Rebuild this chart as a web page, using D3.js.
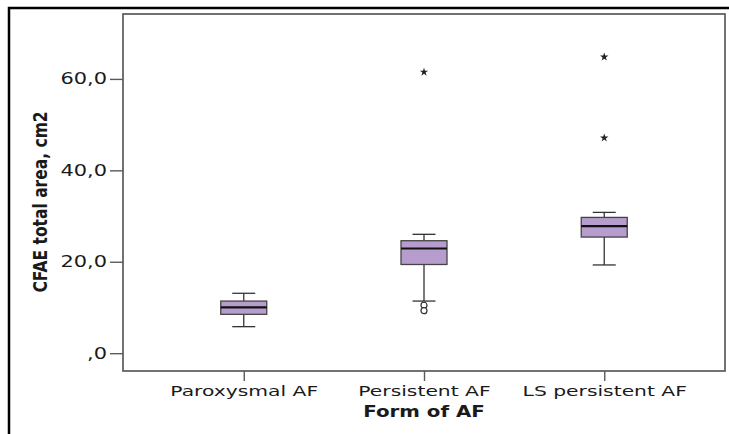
<!DOCTYPE html>
<html>
<head>
<meta charset="utf-8">
<script src="https://cdn.jsdelivr.net/npm/d3@7"></script>
<style>
  body { margin: 0; background: #fff; }
  text { font-family: "DejaVu Sans", Verdana, sans-serif; fill: #1a1a1a; }
</style>
</head>
<body>
<div id="chart"></div>
<script>
// Boxplot of CFAE total area by form of AF
const categories = ["Paroxysmal AF", "Persistent AF", "LS persistent AF"];
const whiskerLow  = [5.8, 11.4, 19.3];
const q1          = [8.5, 19.4, 25.4];
const median      = [10.0, 22.9, 27.8];
const q3          = [11.4, 24.6, 29.7];
const whiskerHigh = [13.1, 26.0, 30.8];
// circles = outliers, stars = extremes
const outliers = [[], [10.5, 9.3], []];
const extremes = [[], [61.5], [64.8, 47.1]];
const yTicks = [0, 20, 40, 60];

const width = 729, height = 434,
  margin = ({top: 14, right: 4, bottom: 63, left: 123});

// the source image is stretched sideways, so text gets a horizontal scale
const stretchTick = 1.35, stretchCat = 1.45, stretchTitle = 1.32;

const data = categories.map((c, i) => ({
  cat: c, lo: whiskerLow[i], q1: q1[i], med: median[i], q3: q3[i], hi: whiskerHigh[i],
  out: outliers[i], ext: extremes[i]
}));

const svg = d3.select("#chart").append("svg")
  .attr("width", width).attr("height", height);

// outer frame (left + top only visible)
svg.append("path")
  .attr("d", `M9,${height} V8 H${width}`)
  .attr("fill", "none").attr("stroke", "#000").attr("stroke-width", 2.5);

const x = d3.scalePoint()
  .domain(categories)
  .range([margin.left, width - margin.right])
  .padding(0.67);

const y = d3.scaleLinear()
  .domain([-3.9, 74.2])
  .range([height - margin.bottom, margin.top]);

const fmt = v => v === 0 ? ",0" : d3.format(".1f")(v).replace(".", ",");

// plot frame
svg.append("rect")
  .attr("x", margin.left).attr("y", margin.top)
  .attr("width", width - margin.right - margin.left)
  .attr("height", height - margin.bottom - margin.top)
  .attr("fill", "none").attr("stroke", "#5a5a5a").attr("stroke-width", 1.7);

const yAxis = svg.append("g")
  .attr("transform", `translate(${margin.left},0)`)
  .call(d3.axisLeft(y).tickValues(yTicks).tickFormat(fmt).tickSize(13).tickPadding(3));
yAxis.select(".domain").remove();
yAxis.selectAll("line").attr("stroke", "#5a5a5a").attr("stroke-width", 1.4);
yAxis.selectAll("text")
  .attr("font-size", 15.5).attr("fill", "#1a1a1a").attr("font-family", "DejaVu Sans")
  .attr("x", 0)
  .attr("transform", `translate(-16,0) scale(${stretchTick},1)`);

const xAxis = svg.append("g")
  .attr("transform", `translate(0,${height - margin.bottom})`)
  .call(d3.axisBottom(x).tickSize(10).tickPadding(5));
xAxis.select(".domain").remove();
xAxis.selectAll("line").attr("stroke", "#5a5a5a").attr("stroke-width", 1.4);
xAxis.selectAll("text")
  .attr("font-size", 14).attr("fill", "#1a1a1a").attr("font-family", "DejaVu Sans")
  .attr("y", 0)
  .attr("transform", `translate(0,15) scale(${stretchCat},1)`);

// axis titles
svg.append("text")
  .attr("transform", `translate(47,202) scale(1.3,1) rotate(-90)`)
  .attr("text-anchor", "middle")
  .attr("font-size", 15.5).attr("font-weight", "bold")
  .text("CFAE total area, cm2");

svg.append("text")
  .attr("transform", `translate(${x("Persistent AF")},417) scale(${stretchTitle},1)`)
  .attr("text-anchor", "middle")
  .attr("font-size", 15).attr("font-weight", "bold")
  .text("Form of AF");

// boxes
const boxW = 46, capW = 23;
const g = svg.append("g").selectAll("g")
  .data(data).join("g")
  .attr("transform", d => `translate(${x(d.cat)},0)`);

g.append("line")
  .attr("y1", d => y(d.lo)).attr("y2", d => y(d.hi))
  .attr("stroke", "#333").attr("stroke-width", 1.3);
g.append("line")
  .attr("x1", -capW / 2).attr("x2", capW / 2)
  .attr("y1", d => y(d.hi)).attr("y2", d => y(d.hi))
  .attr("stroke", "#333").attr("stroke-width", 1.3);
g.append("line")
  .attr("x1", -capW / 2).attr("x2", capW / 2)
  .attr("y1", d => y(d.lo)).attr("y2", d => y(d.lo))
  .attr("stroke", "#333").attr("stroke-width", 1.3);
g.append("rect")
  .attr("x", -boxW / 2).attr("width", boxW)
  .attr("y", d => y(d.q3)).attr("height", d => y(d.q1) - y(d.q3))
  .attr("fill", "#b79dcd").attr("stroke", "#444").attr("stroke-width", 1.3);
g.append("line")
  .attr("x1", -boxW / 2).attr("x2", boxW / 2)
  .attr("y1", d => y(d.med)).attr("y2", d => y(d.med))
  .attr("stroke", "#111").attr("stroke-width", 2.2);

g.selectAll("circle")
  .data(d => d.out).join("circle")
  .attr("r", 3).attr("cy", v => y(v))
  .attr("fill", "#fff").attr("stroke", "#333").attr("stroke-width", 1.2);

g.selectAll("path.ext")
  .data(d => d.ext).join("path")
  .attr("class", "ext")
  .attr("transform", v => `translate(0,${y(v)})`)
  .attr("d", d3.symbol(d3.symbolStar, 22))
  .attr("fill", "#222");
</script>
</body>
</html>
